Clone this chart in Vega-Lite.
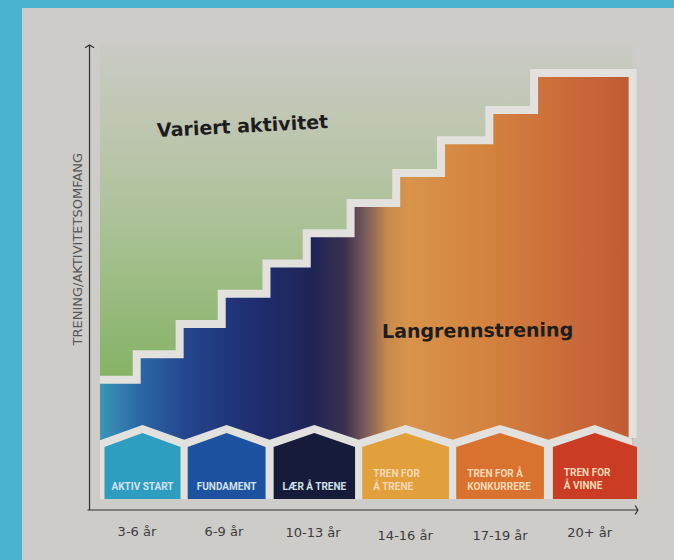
{
  "$schema": "https://vega.github.io/schema/vega-lite/v6.json",
  "width": 652,
  "height": 552,
  "autosize": {"type": "none"},
  "padding": {"left": 22, "top": 8, "right": 0, "bottom": 0},
  "background": "#4ab3ce",
  "config": {"view": {"fill": "#cdccc9", "stroke": null}},
  "datasets": {
    "stairs": [
      {"u": 0, "v": 28, "top": 100, "base": 10}, {"u": 0.41, "v": 33.5, "top": 100, "base": 10},
      {"u": 0.89, "v": 40, "top": 100, "base": 10}, {"u": 1.36, "v": 46.5, "top": 100, "base": 10},
      {"u": 1.86, "v": 53, "top": 100, "base": 10}, {"u": 2.31, "v": 59.5, "top": 100, "base": 10},
      {"u": 2.8, "v": 66, "top": 100, "base": 10}, {"u": 3.31, "v": 72.5, "top": 100, "base": 10},
      {"u": 3.81, "v": 79.5, "top": 100, "base": 10}, {"u": 4.35, "v": 86, "top": 100, "base": 10},
      {"u": 4.85, "v": 94, "top": 100, "base": 10}, {"u": 5.95, "v": 94, "top": 100, "base": 10}
    ],
    "outline": [
      {"u": 0, "v": 28}, {"u": 0.41, "v": 33.5}, {"u": 0.89, "v": 40}, {"u": 1.36, "v": 46.5},
      {"u": 1.86, "v": 53}, {"u": 2.31, "v": 59.5}, {"u": 2.8, "v": 66}, {"u": 3.31, "v": 72.5},
      {"u": 3.81, "v": 79.5}, {"u": 4.35, "v": 86}, {"u": 4.85, "v": 94}, {"u": 5.95, "v": 94},
      {"u": 5.951, "v": 15.5}
    ],
    "band": [
      {"u": 0, "v": 15.0, "b": 2.37}, {"u": 0.475, "v": 18.3, "b": 2.37}, {"u": 0.94, "v": 15.1, "b": 2.37},
      {"u": 1.415, "v": 18.3, "b": 2.37}, {"u": 1.895, "v": 15.1, "b": 2.37}, {"u": 2.395, "v": 18.3, "b": 2.37},
      {"u": 2.89, "v": 15.1, "b": 2.37}, {"u": 3.415, "v": 18.3, "b": 2.37}, {"u": 3.94, "v": 15.1, "b": 2.37},
      {"u": 4.47, "v": 18.3, "b": 2.37}, {"u": 5.01, "v": 15.1, "b": 2.37}, {"u": 5.53, "v": 18.3, "b": 2.37},
      {"u": 5.95, "v": 15.3, "b": 2.37}
    ],
    "houses": [
      {"phase": "AKTIV START", "u": 0.05, "v": 13.55, "b": 2.37}, {"phase": "AKTIV START", "u": 0.475, "v": 16.56, "b": 2.37}, {"phase": "AKTIV START", "u": 0.9, "v": 13.55, "b": 2.37},
      {"phase": "FUNDAMENT", "u": 0.98, "v": 13.55, "b": 2.37}, {"phase": "FUNDAMENT", "u": 1.415, "v": 16.56, "b": 2.37}, {"phase": "FUNDAMENT", "u": 1.85, "v": 13.55, "b": 2.37},
      {"phase": "LÆR Å TRENE", "u": 1.94, "v": 13.55, "b": 2.37}, {"phase": "LÆR Å TRENE", "u": 2.395, "v": 16.56, "b": 2.37}, {"phase": "LÆR Å TRENE", "u": 2.85, "v": 13.55, "b": 2.37},
      {"phase": "TREN FOR Å TRENE", "u": 2.93, "v": 13.55, "b": 2.37}, {"phase": "TREN FOR Å TRENE", "u": 3.415, "v": 16.56, "b": 2.37}, {"phase": "TREN FOR Å TRENE", "u": 3.9, "v": 13.55, "b": 2.37},
      {"phase": "TREN FOR Å KONKURRERE", "u": 3.98, "v": 13.55, "b": 2.37}, {"phase": "TREN FOR Å KONKURRERE", "u": 4.47, "v": 16.56, "b": 2.37}, {"phase": "TREN FOR Å KONKURRERE", "u": 4.96, "v": 13.55, "b": 2.37},
      {"phase": "TREN FOR Å VINNE", "u": 5.06, "v": 13.55, "b": 2.37}, {"phase": "TREN FOR Å VINNE", "u": 5.53, "v": 16.56, "b": 2.37}, {"phase": "TREN FOR Å VINNE", "u": 6.0, "v": 13.55, "b": 2.37}
    ],
    "hlc": [
      {"label": "AKTIV START", "c": 0.475, "v": 3.9},
      {"label": "FUNDAMENT", "c": 1.415, "v": 3.9},
      {"label": "LÆR Å TRENE", "c": 2.395, "v": 3.9}
    ],
    "hll": [
      {"label": "TREN FOR\nÅ TRENE", "l": 2.93, "v": 6.6},
      {"label": "TREN FOR Å\nKONKURRERE", "l": 3.98, "v": 6.6},
      {"label": "TREN FOR\nÅ VINNE", "l": 5.06, "v": 6.8}
    ],
    "ages": [
      {"age": "3-6 år", "c": 0.413, "v": -4.7}, {"age": "6-9 år", "c": 1.385, "v": -4.7}, {"age": "10-13 år", "c": 2.38, "v": -5.0},
      {"age": "14-16 år", "c": 3.41, "v": -5.6}, {"age": "17-19 år", "c": 4.47, "v": -5.6}, {"age": "20+ år", "c": 5.47, "v": -5.0}
    ],
    "yaxis": [{"u": -0.117, "v": 0, "v2": 100}],
    "xaxis": [{"u": -0.14, "u2": 6.01, "v": 0}],
    "arrowUp": [{"u": -0.117, "v": 100}],
    "arrowRight": [{"u": 6.01, "v": 0}],
    "ytitle": [{"title": "TRENING/AKTIVITETSOMFANG", "u": -0.246, "v": 56.1}],
    "note1": [{"note": "Variert aktivitet", "u": 0.637, "v": 81.5}],
    "note2": [{"note": "Langrennstrening", "u": 3.151, "v": 38.3}]
  },
  "layer": [
    {
      "data": {"name": "stairs"},
      "mark": {"type": "area", "interpolate": "step-after",
        "color": {"gradient": "linear", "x1": 0, "y1": 0, "x2": 0, "y2": 1,
          "stops": [
            {"offset": 0, "color": "#cacbc5"},
            {"offset": 0.25, "color": "#bec6b0"},
            {"offset": 0.5, "color": "#aec29a"},
            {"offset": 0.75, "color": "#99bb7f"},
            {"offset": 1, "color": "#85b265"}
          ]}},
      "encoding": {
        "x": {"field": "u", "type": "quantitative", "scale": {"domain": [-0.8715, 6.4134], "nice": false, "zero": false}, "axis": null},
        "y": {"field": "v", "type": "quantitative", "stack": null, "scale": {"domain": [-10.75, 107.96], "nice": false, "zero": false}, "axis": null},
        "y2": {"field": "top"}
      }
    },
    {
      "data": {"name": "stairs"},
      "mark": {"type": "area", "interpolate": "step-after",
        "color": {"gradient": "linear", "x1": 0, "y1": 0, "x2": 1, "y2": 0,
          "stops": [
            {"offset": 0, "color": "#3a96b8"},
            {"offset": 0.07, "color": "#2c6aa6"},
            {"offset": 0.16, "color": "#24468e"},
            {"offset": 0.28, "color": "#1f2f72"},
            {"offset": 0.4, "color": "#1f2456"},
            {"offset": 0.46, "color": "#3b3150"},
            {"offset": 0.5, "color": "#7d5e5a"},
            {"offset": 0.54, "color": "#c78a4c"},
            {"offset": 0.58, "color": "#d8944a"},
            {"offset": 0.72, "color": "#d4843f"},
            {"offset": 0.86, "color": "#cb6d3a"},
            {"offset": 1, "color": "#c05a33"}
          ]}},
      "encoding": {
        "x": {"field": "u", "type": "quantitative", "scale": {"domain": [-0.8715, 6.4134], "nice": false, "zero": false}, "axis": null},
        "y": {"field": "v", "type": "quantitative", "stack": null, "scale": {"domain": [-10.75, 107.96], "nice": false, "zero": false}, "axis": null},
        "y2": {"field": "base"}
      }
    },
    {
      "data": {"name": "outline"},
      "mark": {"type": "line", "interpolate": "step-after", "color": "#e2e1dd", "strokeWidth": 8, "strokeCap": "butt", "strokeJoin": "miter"},
      "encoding": {
        "x": {"field": "u", "type": "quantitative", "scale": {"domain": [-0.8715, 6.4134], "nice": false, "zero": false}, "axis": null},
        "y": {"field": "v", "type": "quantitative", "scale": {"domain": [-10.75, 107.96], "nice": false, "zero": false}, "axis": null}
      }
    },
    {
      "data": {"name": "band"},
      "mark": {"type": "area", "color": "#e2e1dd"},
      "encoding": {
        "x": {"field": "u", "type": "quantitative", "scale": {"domain": [-0.8715, 6.4134], "nice": false, "zero": false}, "axis": null},
        "y": {"field": "v", "type": "quantitative", "stack": null, "scale": {"domain": [-10.75, 107.96], "nice": false, "zero": false}, "axis": null},
        "y2": {"field": "b"}
      }
    },
    {
      "data": {"name": "houses"},
      "mark": {"type": "area", "opacity": 1},
      "encoding": {
        "x": {"field": "u", "type": "quantitative", "scale": {"domain": [-0.8715, 6.4134], "nice": false, "zero": false}, "axis": null},
        "y": {"field": "v", "type": "quantitative", "stack": null, "scale": {"domain": [-10.75, 107.96], "nice": false, "zero": false}, "axis": null},
        "y2": {"field": "b"},
        "color": {"field": "phase", "type": "nominal", "legend": null,
          "scale": {"domain": ["AKTIV START", "FUNDAMENT", "LÆR Å TRENE", "TREN FOR Å TRENE", "TREN FOR Å KONKURRERE", "TREN FOR Å VINNE"],
                    "range": ["#2d9ec0", "#1d52a0", "#161b3a", "#e2a03c", "#d9712f", "#ca3c24"]}}
      }
    },
    {
      "data": {"name": "hlc"},
      "mark": {"type": "text", "align": "center", "baseline": "bottom", "font": "Roboto", "fontWeight": "bold", "fontSize": 10, "color": "#d3e2ea"},
      "encoding": {
        "x": {"field": "c", "type": "quantitative", "scale": {"domain": [-0.8715, 6.4134], "nice": false, "zero": false}, "axis": null},
        "y": {"field": "v", "type": "quantitative", "scale": {"domain": [-10.75, 107.96], "nice": false, "zero": false}, "axis": null},
        "text": {"field": "label"}
      }
    },
    {
      "data": {"name": "hll"},
      "mark": {"type": "text", "align": "left", "baseline": "bottom", "dx": 11, "font": "Roboto", "fontWeight": "bold", "fontSize": 10, "lineBreak": "\n", "lineHeight": 13, "color": "#f6d9b4"},
      "encoding": {
        "x": {"field": "l", "type": "quantitative", "scale": {"domain": [-0.8715, 6.4134], "nice": false, "zero": false}, "axis": null},
        "y": {"field": "v", "type": "quantitative", "scale": {"domain": [-10.75, 107.96], "nice": false, "zero": false}, "axis": null},
        "text": {"field": "label"}
      }
    },
    {
      "data": {"name": "yaxis"},
      "mark": {"type": "rule", "color": "#2f2f2f", "strokeWidth": 1.2},
      "encoding": {
        "x": {"field": "u", "type": "quantitative", "scale": {"domain": [-0.8715, 6.4134], "nice": false, "zero": false}, "axis": null},
        "y": {"field": "v", "type": "quantitative", "scale": {"domain": [-10.75, 107.96], "nice": false, "zero": false}, "axis": null},
        "y2": {"field": "v2"}
      }
    },
    {
      "data": {"name": "xaxis"},
      "mark": {"type": "rule", "color": "#2f2f2f", "strokeWidth": 1.2},
      "encoding": {
        "x": {"field": "u", "type": "quantitative", "scale": {"domain": [-0.8715, 6.4134], "nice": false, "zero": false}, "axis": null},
        "x2": {"field": "u2"},
        "y": {"field": "v", "type": "quantitative", "scale": {"domain": [-10.75, 107.96], "nice": false, "zero": false}, "axis": null}
      }
    },
    {
      "data": {"name": "arrowUp"},
      "mark": {"type": "point", "shape": "M-1,0.6L0,0L1,0.6", "filled": false, "stroke": "#2f2f2f", "strokeWidth": 1.2, "size": 81, "opacity": 1},
      "encoding": {
        "x": {"field": "u", "type": "quantitative", "scale": {"domain": [-0.8715, 6.4134], "nice": false, "zero": false}, "axis": null},
        "y": {"field": "v", "type": "quantitative", "scale": {"domain": [-10.75, 107.96], "nice": false, "zero": false}, "axis": null}
      }
    },
    {
      "data": {"name": "arrowRight"},
      "mark": {"type": "point", "shape": "M-0.6,-1L0,0L-0.6,1", "filled": false, "stroke": "#2f2f2f", "strokeWidth": 1.2, "size": 81, "opacity": 1},
      "encoding": {
        "x": {"field": "u", "type": "quantitative", "scale": {"domain": [-0.8715, 6.4134], "nice": false, "zero": false}, "axis": null},
        "y": {"field": "v", "type": "quantitative", "scale": {"domain": [-10.75, 107.96], "nice": false, "zero": false}, "axis": null}
      }
    },
    {
      "data": {"name": "ages"},
      "mark": {"type": "text", "align": "center", "baseline": "middle", "font": "DejaVu Sans", "fontSize": 13, "color": "#3c3c3c"},
      "encoding": {
        "x": {"field": "c", "type": "quantitative", "scale": {"domain": [-0.8715, 6.4134], "nice": false, "zero": false}, "axis": null},
        "y": {"field": "v", "type": "quantitative", "scale": {"domain": [-10.75, 107.96], "nice": false, "zero": false}, "axis": null},
        "text": {"field": "age"}
      }
    },
    {
      "data": {"name": "ytitle"},
      "mark": {"type": "text", "align": "center", "baseline": "middle", "angle": 270, "font": "DejaVu Sans", "fontSize": 13, "color": "#565656"},
      "encoding": {
        "x": {"field": "u", "type": "quantitative", "scale": {"domain": [-0.8715, 6.4134], "nice": false, "zero": false}, "axis": null},
        "y": {"field": "v", "type": "quantitative", "scale": {"domain": [-10.75, 107.96], "nice": false, "zero": false}, "axis": null},
        "text": {"field": "title"}
      }
    },
    {
      "data": {"name": "note1"},
      "mark": {"type": "text", "align": "left", "baseline": "middle", "angle": -3, "font": "DejaVu Sans", "fontWeight": "bold", "fontSize": 19, "color": "#1d1d1d"},
      "encoding": {
        "x": {"field": "u", "type": "quantitative", "scale": {"domain": [-0.8715, 6.4134], "nice": false, "zero": false}, "axis": null},
        "y": {"field": "v", "type": "quantitative", "scale": {"domain": [-10.75, 107.96], "nice": false, "zero": false}, "axis": null},
        "text": {"field": "note"}
      }
    },
    {
      "data": {"name": "note2"},
      "mark": {"type": "text", "align": "left", "baseline": "middle", "angle": -0.5, "font": "DejaVu Sans", "fontWeight": "bold", "fontSize": 19, "color": "#1d1d1d"},
      "encoding": {
        "x": {"field": "u", "type": "quantitative", "scale": {"domain": [-0.8715, 6.4134], "nice": false, "zero": false}, "axis": null},
        "y": {"field": "v", "type": "quantitative", "scale": {"domain": [-10.75, 107.96], "nice": false, "zero": false}, "axis": null},
        "text": {"field": "note"}
      }
    }
  ]
}
